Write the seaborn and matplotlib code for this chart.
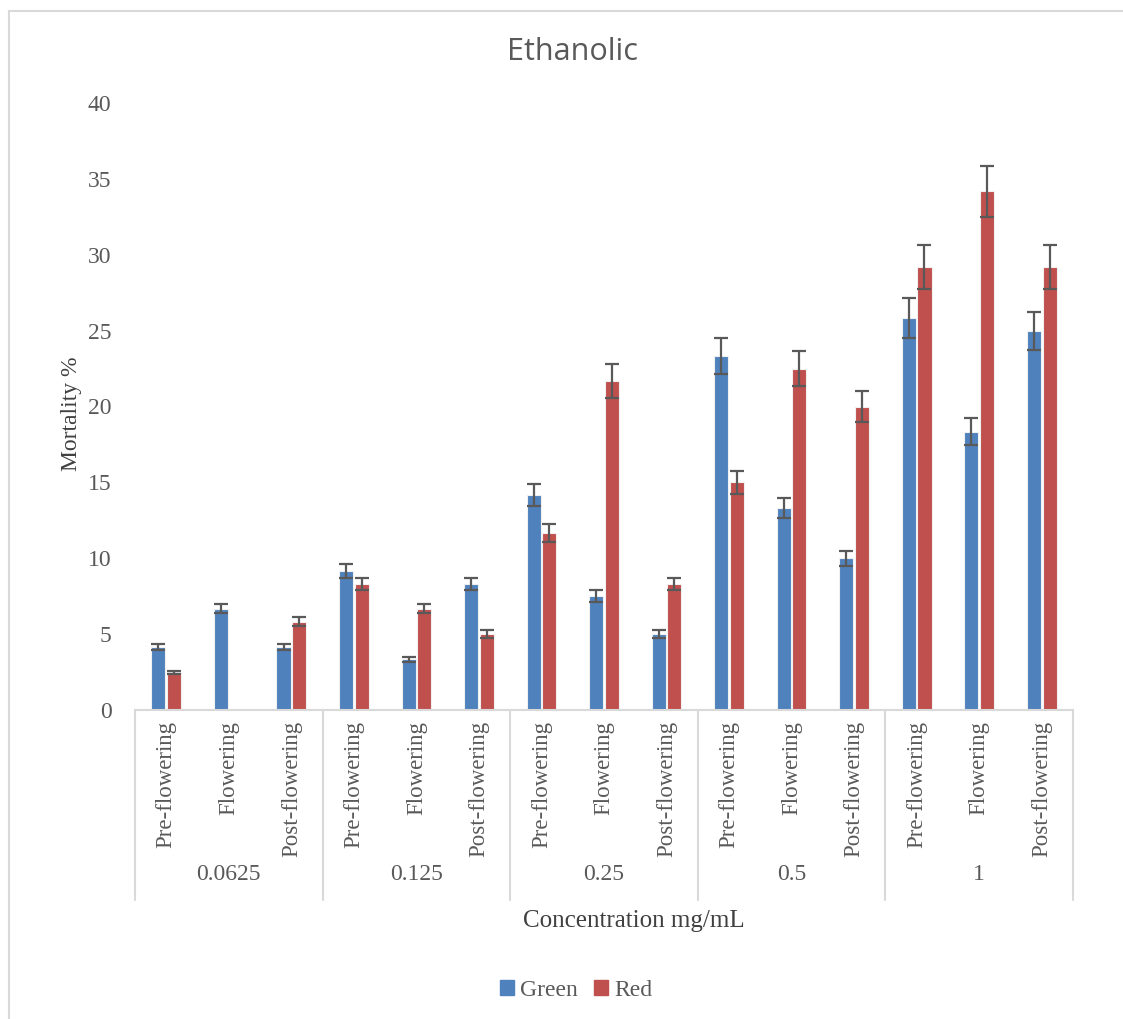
import pandas as pd
import numpy as np
import matplotlib
matplotlib.use("Agg")
import matplotlib.pyplot as plt
import seaborn as sns
from matplotlib.lines import Line2D
from matplotlib.patches import Patch

concentrations = ["0.0625", "0.125", "0.25", "0.5", "1"]
stages = ["Pre-flowering", "Flowering", "Post-flowering"]

green = [4.17, 6.67, 4.17, 9.17, 3.33, 8.33, 14.17, 7.5, 5.0, 23.33, 13.33, 10.0, 25.83, 18.33, 25.0]
red = [2.5, 0.0, 5.83, 8.33, 6.67, 5.0, 11.67, 21.67, 8.33, 15.0, 22.5, 20.0, 29.17, 34.17, 29.17]
green_err = [0.2, 0.3, 0.2, 0.45, 0.15, 0.4, 0.7, 0.4, 0.25, 1.2, 0.67, 0.5, 1.3, 0.9, 1.25]
red_err = [0.1, np.nan, 0.3, 0.4, 0.3, 0.25, 0.6, 1.1, 0.4, 0.75, 1.15, 1.0, 1.45, 1.7, 1.45]

keys = [c + "|" + s for c in concentrations for s in stages]
df = pd.DataFrame({
    "key": keys * 2,
    "value": green + red,
    "err": green_err + red_err,
    "leaf": ["Green"] * len(keys) + ["Red"] * len(keys),
})

sns.set_style("white")
plt.rcParams["font.family"] = ["Liberation Serif", "DejaVu Serif"]

fig = plt.figure(figsize=(11.23, 10.19), dpi=100)
ax = fig.add_axes([135 / 1123, 1 - 710 / 1019, 938 / 1123, 607 / 1019])

palette = {"Green": "#4F81BD", "Red": "#C0504D"}
sns.barplot(data=df, x="key", y="value", hue="leaf", order=keys,
            hue_order=["Green", "Red"], palette=palette, width=0.5, gap=0.1,
            saturation=1, errorbar=None, edgecolor="#f0f0f0", linewidth=0.8,
            legend=False, ax=ax)

# error bars on the seaborn bars
for cont, lvl in zip(ax.containers, ["Green", "Red"]):
    errs = df[df["leaf"] == lvl]["err"].values
    for bar, e in zip(cont, errs):
        if np.isnan(e):
            continue
        xc = bar.get_x() + bar.get_width() / 2
        ax.errorbar(xc, bar.get_height(), yerr=e, color="#595959",
                    capsize=5, elinewidth=1.6, capthick=1.6, zorder=5)

ax.set_xlim(-0.5, len(keys) - 0.5)
ax.set_ylim(0, 40)
ax.set_yticks(range(0, 41, 5))
ax.tick_params(axis="y", length=0, pad=17, labelsize=17, labelcolor="#595959")
ax.set_xticks(range(len(keys)))
ax.set_xticklabels([k.split("|")[1] for k in keys], rotation=90)
ax.tick_params(axis="x", length=0, pad=8, labelsize=16.5, labelcolor="#595959")

for s in ["top", "right", "left"]:
    ax.spines[s].set_visible(False)
ax.spines["bottom"].set_color("#d9d9d9")
ax.spines["bottom"].set_linewidth(1.5)

# group separators and group labels
for i in range(len(concentrations) + 1):
    xs = i * 3 - 0.5
    ax.plot([xs, xs], [0, -12.5], color="#d9d9d9", lw=1.5, clip_on=False)
for i, c in enumerate(concentrations):
    ax.text(i * 3 + 1, -10.85, c, ha="center", va="center", fontsize=17,
            color="#595959", clip_on=False)

ax.set_xlabel("")
ax.set_ylabel("Mortality %", fontsize=17, color="#404040")
ax.yaxis.set_label_coords(-0.057, 0.488)

fig.text(634 / 1123, 1 - 921 / 1019, "Concentration mg/mL", ha="center", va="center",
         fontsize=18, color="#404040")
fig.text(572 / 1123, 1 - 52 / 1019, "Ethanolic", ha="center", va="center",
         fontsize=22, color="#595959", family=["Open Sans", "DejaVu Sans"])

handles = [Patch(color=palette["Green"], label="Green"), Patch(color=palette["Red"], label="Red")]
fig.legend(handles=handles, loc="center", bbox_to_anchor=(576 / 1123, 1 - 990 / 1019),
           ncol=2, frameon=False, fontsize=17, handlelength=0.6, handleheight=0.6,
           handletextpad=0.25, columnspacing=0.7, labelcolor="#595959")

# chart area border (top and left edges visible)
fig.add_artist(Line2D([9 / 1123, 1], [1 - 11 / 1019, 1 - 11 / 1019], color="#d9d9d9", lw=1.5))
fig.add_artist(Line2D([9 / 1123, 9 / 1123], [0, 1 - 11 / 1019], color="#d9d9d9", lw=1.5))

fig.savefig("out.png", dpi=100, facecolor="white")
